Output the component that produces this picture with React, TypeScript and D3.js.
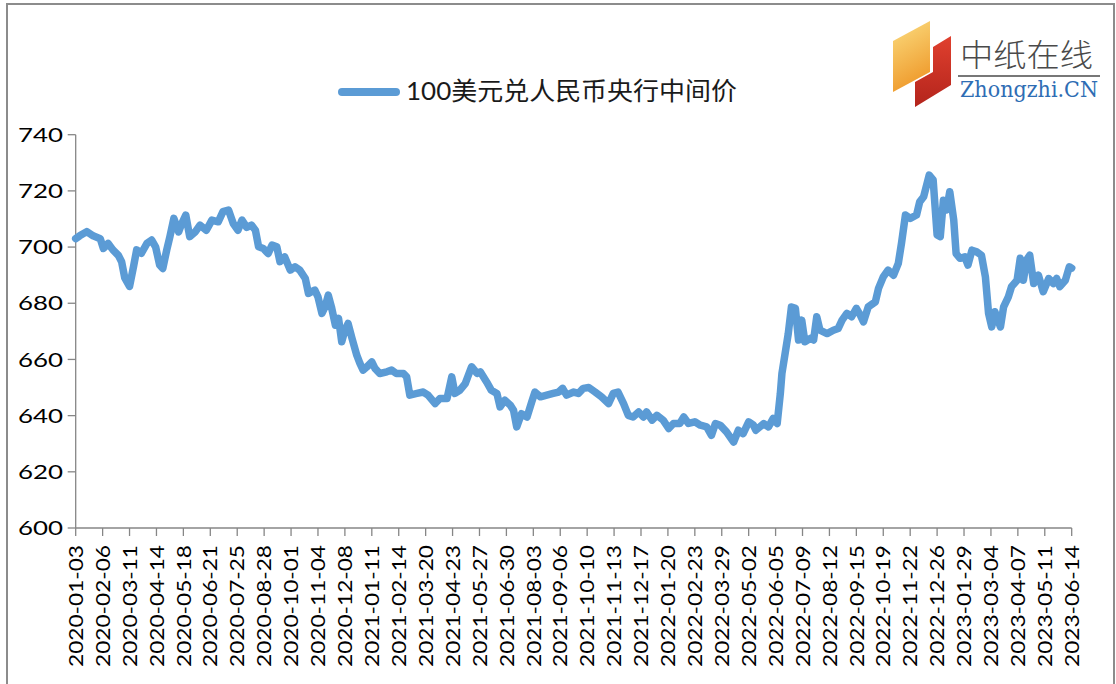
import React from "react";
import * as d3 from "d3";

// USD/CNY central parity x100
const dates2020 = ["2020-01-03", "2020-01-08", "2020-01-17", "2020-01-25", "2020-02-03", "2020-02-07", "2020-02-13", "2020-02-19", "2020-02-26", "2020-03-01", "2020-03-05", "2020-03-11", "2020-03-16", "2020-03-20", "2020-03-26", "2020-04-02", "2020-04-08", "2020-04-13", "2020-04-18", "2020-04-22", "2020-04-27", "2020-05-01", "2020-05-06", "2020-05-12", "2020-05-16", "2020-05-21", "2020-05-26", "2020-06-02", "2020-06-08", "2020-06-16", "2020-06-23", "2020-07-01", "2020-07-07", "2020-07-14", "2020-07-20", "2020-07-26", "2020-07-31", "2020-08-06", "2020-08-12", "2020-08-17", "2020-08-21", "2020-08-27", "2020-09-02", "2020-09-07", "2020-09-13", "2020-09-17", "2020-09-23", "2020-09-30", "2020-10-06", "2020-10-12", "2020-10-19", "2020-10-23", "2020-10-31", "2020-11-04", "2020-11-09", "2020-11-13", "2020-11-17", "2020-11-21", "2020-11-26", "2020-11-30", "2020-12-04", "2020-12-08", "2020-12-12", "2020-12-17", "2020-12-23", "2020-12-27", "2020-12-31"];
const values2020 = [703, 704, 705.5, 704, 703, 699.5, 701.3, 699, 697, 694.8, 689, 686, 693, 699, 697.8, 701.3, 702.5, 700, 693.6, 692.4, 699, 703.7, 710.2, 705.4, 708.4, 711.4, 703.7, 705.4, 707.8, 706, 709.6, 709, 712.6, 713.2, 708.4, 706, 709.6, 707, 707.8, 706, 700.1, 699.5, 697.7, 700.7, 700.1, 694.8, 696.5, 691.8, 693, 691.8, 688.8, 683.5, 684.7, 682.3, 676.4, 678.7, 682.9, 678.7, 672.2, 674.6, 666.3, 670.4, 672.8, 667.5, 661.5, 658.6, 656.2];

const dates2021 = ["2021-01-05", "2021-01-11", "2021-01-15", "2021-01-21", "2021-01-30", "2021-02-05", "2021-02-11", "2021-02-20", "2021-02-24", "2021-02-28", "2021-03-09", "2021-03-17", "2021-03-23", "2021-04-01", "2021-04-07", "2021-04-16", "2021-04-22", "2021-04-26", "2021-05-02", "2021-05-09", "2021-05-17", "2021-05-24", "2021-05-28", "2021-06-05", "2021-06-11", "2021-06-18", "2021-06-22", "2021-06-28", "2021-07-05", "2021-07-09", "2021-07-13", "2021-07-19", "2021-07-26", "2021-08-01", "2021-08-05", "2021-08-12", "2021-08-20", "2021-08-28", "2021-09-04", "2021-09-09", "2021-09-14", "2021-09-23", "2021-09-29", "2021-10-05", "2021-10-12", "2021-10-20", "2021-10-28", "2021-11-06", "2021-11-12", "2021-11-18", "2021-11-25", "2021-12-01", "2021-12-07", "2021-12-14", "2021-12-20", "2021-12-24", "2021-12-31"];
const values2021 = [657.4, 659.1, 656.8, 655, 655.6, 656.2, 655, 655, 653.8, 647.3, 647.9, 648.4, 647.3, 644.3, 646.1, 646.1, 653.8, 647.9, 649, 651.4, 657.4, 655, 655.6, 652, 649, 647.9, 643.1, 645.5, 643.7, 641.9, 636, 640.7, 639.5, 644.9, 648.4, 646.7, 647.3, 647.9, 648.4, 649.7, 647.3, 648.4, 647.9, 649.7, 650, 648.4, 646.7, 644.3, 647.9, 648.4, 644.3, 640.1, 639.5, 641.3, 639.5, 641.3, 638.4];

const dates2022 = ["2022-01-06", "2022-01-14", "2022-01-21", "2022-01-27", "2022-02-04", "2022-02-09", "2022-02-15", "2022-02-23", "2022-03-02", "2022-03-10", "2022-03-16", "2022-03-21", "2022-03-27", "2022-04-04", "2022-04-13", "2022-04-19", "2022-04-25", "2022-05-02", "2022-05-08", "2022-05-11", "2022-05-21", "2022-05-27", "2022-06-02", "2022-06-07", "2022-06-11", "2022-06-13", "2022-06-17", "2022-06-21", "2022-06-25", "2022-06-30", "2022-07-04", "2022-07-08", "2022-07-12", "2022-07-19", "2022-07-23", "2022-07-27", "2022-07-31", "2022-08-09", "2022-08-17", "2022-08-23", "2022-08-28", "2022-09-03", "2022-09-09", "2022-09-15", "2022-09-20", "2022-09-24", "2022-09-30", "2022-10-09", "2022-10-13", "2022-10-19", "2022-10-25", "2022-11-01", "2022-11-07", "2022-11-11", "2022-11-16", "2022-11-22", "2022-11-30", "2022-12-04", "2022-12-09", "2022-12-16", "2022-12-21", "2022-12-26", "2022-12-30"];
const values2022 = [640.1, 638.4, 635.4, 637.2, 637.2, 639.5, 637.2, 637.8, 636.6, 636, 633, 637.2, 636.6, 634.2, 630.6, 634.8, 633.6, 637.8, 636.6, 634.8, 637.2, 636, 639, 637.2, 647.9, 655, 662.1, 669.2, 678.7, 678.2, 666.9, 674, 666.3, 667.5, 666.9, 675.2, 670.4, 669.2, 670.4, 671, 674, 676.4, 675.2, 678.2, 675.8, 673.4, 678.7, 680.5, 685.3, 689.4, 691.8, 690, 694.2, 701.3, 711.4, 710.2, 711.4, 716.1, 717.9, 725.6, 723.9, 704.3, 703.7];

const dates2023 = ["2023-01-03", "2023-01-07", "2023-01-11", "2023-01-16", "2023-01-19", "2023-01-24", "2023-01-30", "2023-02-03", "2023-02-08", "2023-02-14", "2023-02-20", "2023-02-25", "2023-03-01", "2023-03-05", "2023-03-09", "2023-03-16", "2023-03-20", "2023-03-26", "2023-03-30", "2023-04-06", "2023-04-10", "2023-04-14", "2023-04-18", "2023-04-22", "2023-04-27", "2023-05-03", "2023-05-09", "2023-05-16", "2023-05-22", "2023-05-26", "2023-05-30", "2023-06-06", "2023-06-11", "2023-06-14"];
const values2023 = [716.7, 713.2, 719.7, 709.6, 697.7, 696, 696.5, 693.6, 698.9, 698.3, 697.1, 689.4, 676.4, 671.6, 677, 671.6, 678.7, 682.3, 685.9, 688.2, 696, 688.2, 695.4, 697.1, 687, 690, 684.1, 688.8, 687, 688.8, 685.9, 688.2, 693, 692.5];

const xTickLabels = ["2020-01-03", "2020-02-06", "2020-03-11", "2020-04-14", "2020-05-18", "2020-06-21", "2020-07-25", "2020-08-28", "2020-10-01", "2020-11-04", "2020-12-08", "2021-01-11", "2021-02-14", "2021-03-20", "2021-04-23", "2021-05-27", "2021-06-30", "2021-08-03", "2021-09-06", "2021-10-10", "2021-11-13", "2021-12-17", "2022-01-20", "2022-02-23", "2022-03-29", "2022-05-02", "2022-06-05", "2022-07-09", "2022-08-12", "2022-09-15", "2022-10-19", "2022-11-22", "2022-12-26", "2023-01-29", "2023-03-04", "2023-04-07", "2023-05-11", "2023-06-14"];
const yTicks = [600, 620, 640, 660, 680, 700, 720, 740];

const seriesName = "100美元兑人民币央行中间价";

const W = 1116;
const H = 684;
const left = 75.7;
const right = 1071.7;
const top = 134.7;
const bottom = 528;
const lineColor = "#5B9BD5";
const axisColor = "#868686";
const font = "Lato, 'Open Sans', sans-serif";

const parse = d3.utcParse("%Y-%m-%d");

export default function App() {
  const dates = [...dates2020, ...dates2021, ...dates2022, ...dates2023];
  const values = [...values2020, ...values2021, ...values2022, ...values2023];
  const data = dates.map((d, i) => ({ date: parse(d) as Date, value: values[i] }));

  const x = d3
    .scaleUtc()
    .domain([parse(xTickLabels[0]) as Date, parse(xTickLabels[xTickLabels.length - 1]) as Date])
    .range([left, right]);
  const y = d3.scaleLinear().domain([600, 740]).range([bottom, top]);

  const line = d3
    .line<{ date: Date; value: number }>()
    .x((d) => x(d.date))
    .y((d) => y(d.value));

  // logo shapes (orange and red blocks)
  const yellow: [number, number][] = [[893, 41], [930, 21], [930, 72], [893, 92]];
  const red: [number, number][] = [[933, 47], [951, 36], [951, 85], [915, 107], [915, 82], [933, 72]];
  const poly = (pts: [number, number][]) => pts.map((p) => p.join(",")).join(" ");

  return (
    <div>
      <style>{`body{margin:0;background:#fff}`}</style>
      <svg width={W} height={H} style={{ display: "block" }}>
        <defs>
          <linearGradient id="gy" x1="0" y1="0" x2="0.3" y2="1">
            <stop offset="0" stopColor="#FBDD80" />
            <stop offset="1" stopColor="#EF9B2D" />
          </linearGradient>
          <linearGradient id="gr" x1="0" y1="0" x2="0" y2="1">
            <stop offset="0" stopColor="#E0402E" />
            <stop offset="1" stopColor="#B3241C" />
          </linearGradient>
        </defs>
        <rect x={0} y={0} width={W} height={H} fill="#fff" />
        <rect x={7} y={4} width={1107} height={700} fill="none" stroke="#8c8c8c" strokeWidth={2} />

        {/* logo */}
        <polygon points={poly(yellow)} fill="url(#gy)" />
        <polygon points={poly(red)} fill="url(#gr)" />
        <text x={960} y={66} fontSize={31} fill="#4a4a4a" textLength={133} lengthAdjust="spacingAndGlyphs"
          style={{ fontFamily: "'Noto Sans CJK SC', sans-serif", fontWeight: 300 }}>中纸在线</text>
        <line x1={958} x2={1100} y1={76} y2={76} stroke="#777" strokeWidth={2} />
        <text x={960} y={97} fontSize={22} fill="#2E6DB4" textLength={138} lengthAdjust="spacingAndGlyphs"
          style={{ fontFamily: "'DejaVu Serif', serif" }}>Zhongzhi.CN</text>

        {/* legend */}
        <line x1={342} x2={396} y1={92} y2={92} stroke={lineColor} strokeWidth={8} strokeLinecap="round" />
        <text x={406} y={100} fontSize={25} fill="#1a1a1a" textLength={331} lengthAdjust="spacingAndGlyphs"
          style={{ fontFamily: "Lato, 'Noto Sans CJK SC', sans-serif" }}>{seriesName}</text>

        {/* y axis */}
        <line x1={left} x2={left} y1={top} y2={bottom} stroke={axisColor} strokeWidth={1.3} />
        {yTicks.map((t) => (
          <g key={t}>
            <line x1={left - 8} x2={left} y1={y(t)} y2={y(t)} stroke={axisColor} strokeWidth={1.3} />
            <text x={63} y={y(t)} dy="0.36em" textAnchor="end" fontSize={20} fill="#000"
              textLength={45} lengthAdjust="spacingAndGlyphs" style={{ fontFamily: font }}>{t}</text>
          </g>
        ))}

        {/* x axis */}
        <line x1={left} x2={right} y1={bottom} y2={bottom} stroke={axisColor} strokeWidth={1.3} />
        {xTickLabels.map((t) => {
          const tx = x(parse(t) as Date);
          return (
            <g key={t}>
              <line x1={tx} x2={tx} y1={bottom} y2={bottom + 8} stroke={axisColor} strokeWidth={1.3} />
              <text transform={`translate(${tx},545) rotate(-90)`} dy="0.36em" textAnchor="end" fontSize={20}
                fill="#000" textLength={122} lengthAdjust="spacingAndGlyphs" style={{ fontFamily: font }}>{t}</text>
            </g>
          );
        })}

        {/* series */}
        <path d={line(data) || ""} fill="none" stroke={lineColor} strokeWidth={7.5}
          strokeLinejoin="round" strokeLinecap="round" />
      </svg>
    </div>
  );
}
